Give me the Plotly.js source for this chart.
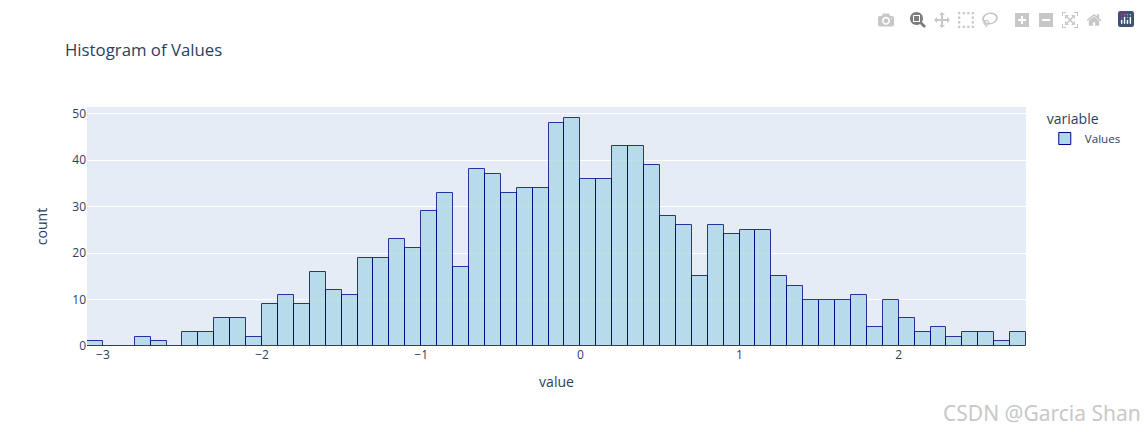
<!DOCTYPE html>
<html>
<head>
<meta charset="utf-8">
<script src="https://cdn.plot.ly/plotly-3.0.1.min.js"></script>
<style>
html,body{margin:0;padding:0;background:#fff}
#chart{width:1144px;height:432px}
.modebar-container{transform:translate(-4px,6px)}
.modebar-group:last-child{margin-left:2px}
.modebar-btn.plotlyjsicon svg rect{fill:#3f4f75 !important}
</style>
</head>
<body>
<div id="chart"></div>
<script>
const binStarts = [-3.1,-3.0,-2.9,-2.8,-2.7,-2.6,-2.5,-2.4,-2.3,-2.2,-2.1,-2.0,-1.9,-1.8,-1.7,-1.6,-1.5,-1.4,-1.3,-1.2,-1.1,-1.0,-0.9,-0.8,-0.7,-0.6,-0.5,-0.4,-0.3,-0.2,-0.1,0.0,0.1,0.2,0.3,0.4,0.5,0.6,0.7,0.8,0.9,1.0,1.1,1.2,1.3,1.4,1.5,1.6,1.7,1.8,1.9,2.0,2.1,2.2,2.3,2.4,2.5,2.6,2.7];
const counts = [1,0,0,2,1,0,3,3,6,6,2,9,11,9,16,12,11,19,19,23,21,29,33,17,38,37,33,34,34,48,49,36,36,43,43,39,28,26,15,26,24,25,25,15,13,10,10,10,11,4,10,6,3,4,2,3,3,1,3];
const binWidth = 0.1;
const seriesName = "Values";

const trace = {
  type: "bar",
  name: seriesName,
  x: binStarts,
  y: counts,
  offset: 0,
  width: binWidth,
  showlegend: true,
  marker: {color: "lightblue", opacity: 0.8, line: {color: "darkblue", width: 1}}
};

const layout = {
  width: 1144,
  height: 432,
  margin: {l: 87, r: 118, t: 107, b: 86},
  paper_bgcolor: "#fff",
  plot_bgcolor: "#E5ECF6",
  font: {family: '"Open Sans", verdana, arial, sans-serif', size: 12, color: "#2a3f5f"},
  title: {text: "Histogram of Values", x: 65/1144, xanchor: "left", y: 0.885, yanchor: "middle", font: {size: 16.8}},
  bargap: 0,
  xaxis: {
    range: [-3.1, 2.8], showgrid: false, zeroline: false, ticks: "", tickvals: [-3,-2,-1,0,1,2],
    title: {text: "value", standoff: 15, font: {size: 14}}
  },
  yaxis: {
    range: [0, 51.4], gridcolor: "#ffffff", gridwidth: 1, zeroline: true, zerolinecolor: "#ffffff", zerolinewidth: 2,
    tickvals: [0,10,20,30,40,50],
    title: {text: "count", standoff: 21, font: {size: 14}}
  },
  legend: {
    title: {text: "variable", font: {size: 14}},
    x: 1.02, xanchor: "left", y: 1.005, yanchor: "top", font: {size: 11.6}
  },
  annotations: [{
    text: "CSDN @Garcia Shan", xref: "paper", yref: "paper",
    x: (1143-87)/939, xanchor: "right",
    y: -67/239, yanchor: "middle", showarrow: false,
    font: {size: 21, color: "#c8c8c8", family: "Noto Sans, sans-serif"}
  }]
};

Plotly.newPlot("chart", [trace], layout, {displayModeBar: true, displaylogo: true, responsive: false});
</script>
</body>
</html>
